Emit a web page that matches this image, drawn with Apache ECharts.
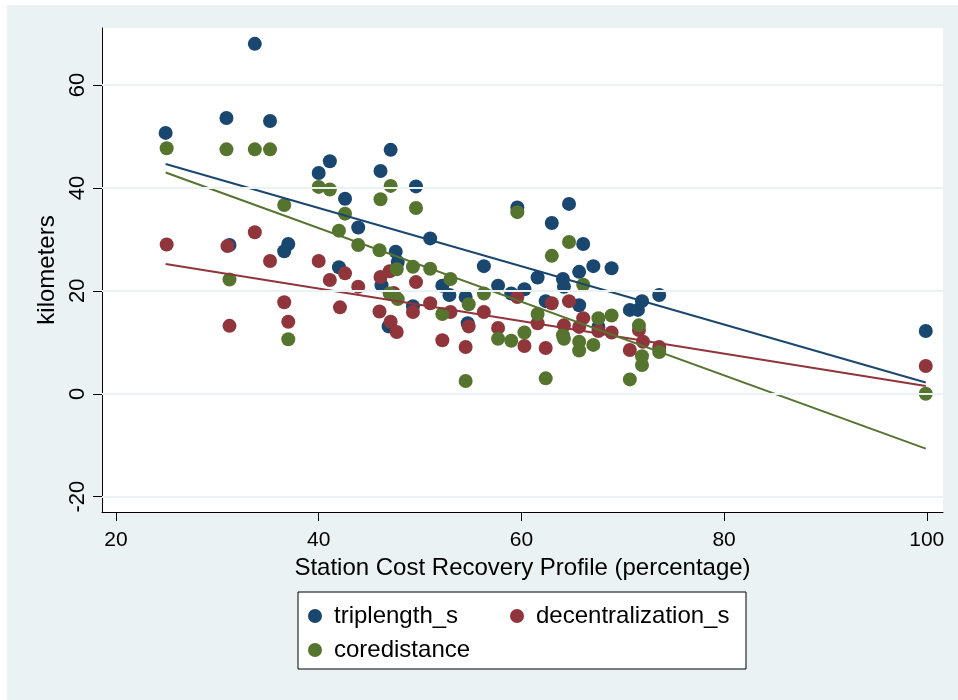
<!DOCTYPE html>
<html><head><meta charset="utf-8">
<script src="https://cdn.jsdelivr.net/npm/echarts@6/dist/echarts.min.js"></script>
<style>html,body{margin:0;padding:0;background:#fff}#c{width:958px;height:700px}</style>
</head><body><div id="c"></div>
<script>
// ---- data ----
const xTicks = [20, 40, 60, 80, 100];
const yTicks = [-20, 0, 20, 40, 60];
const seriesNames = ['triplength_s', 'decentralization_s', 'coredistance'];

const tripX = [24.9,30.9,33.7,35.2,31.2,37.0,36.6,40.0,41.1,42.6,43.9,42.0,46.1,47.1,46.2,47.6,47.8,46.9,49.6,51.0,49.3,52.2,52.9,54.5,54.7,56.3,57.7,59.0,59.6,60.3,61.6,62.4,63.0,64.1,64.2,64.7,65.7,65.7,66.1,67.1,67.6,68.9,70.7,71.5,71.9,73.6,99.9];
const tripY = [50.7,53.6,68.0,53.0,28.9,29.1,27.7,42.9,45.2,37.9,32.3,24.6,43.3,47.4,21.1,27.6,25.6,13.1,40.3,30.2,17.0,21.0,19.2,18.8,13.7,24.8,21.0,19.5,36.2,20.3,22.6,18.0,33.2,22.3,20.8,36.9,23.7,17.2,29.1,24.8,13.0,24.4,16.3,16.3,18.0,19.2,12.2];

const decX = [25.0,31.0,31.2,33.7,35.2,36.6,37.0,40.0,41.1,42.1,42.6,43.9,46.0,46.1,47.0,47.1,47.7,47.4,49.3,49.6,51.0,52.2,53.0,54.5,54.8,56.3,57.7,59.6,60.3,61.6,62.4,63.0,64.2,64.7,65.7,66.1,67.6,68.9,70.7,71.6,72.0,73.6,99.9];
const decY = [29.0,28.7,13.2,31.4,25.8,17.8,14.0,25.8,22.1,16.8,23.4,20.8,16.0,22.7,23.8,14.0,12.0,19.6,15.9,21.7,17.6,10.4,15.9,9.1,13.1,15.9,12.8,18.8,9.3,13.7,8.9,17.6,13.3,18.0,13.0,14.7,12.2,11.9,8.5,12.4,10.1,9.1,5.4];

const coreX = [25.0,30.9,31.2,33.7,35.2,36.6,37.0,40.0,41.1,42.0,42.6,43.9,46.0,46.1,47.1,47.7,47.0,47.8,49.3,49.6,51.0,52.2,53.0,54.5,54.8,56.3,57.7,59.0,59.6,60.3,61.6,62.4,63.0,64.1,64.2,64.7,65.7,65.7,66.1,67.1,67.6,68.9,70.7,71.6,71.9,71.9,73.6,99.9];
const coreY = [47.7,47.5,22.2,47.5,47.5,36.7,10.6,40.2,39.7,31.7,35.0,28.9,27.9,37.8,40.4,24.2,19.5,18.4,24.7,36.1,24.3,15.5,22.3,2.5,17.4,19.5,10.7,10.3,35.3,11.9,15.5,3.0,26.8,11.4,10.7,29.5,10.1,8.4,21.2,9.5,14.7,15.2,2.8,13.3,7.3,5.6,8.1,0.0];

// fitted-line endpoints
const fitX = [24.9, 99.9];
const fitTrip = [44.65, 2.2];
const fitDec = [25.2, 1.5];
const fitCore = [43.0, -10.65];

// ---- styling ----
const colors = ['#1a476f', '#90353b', '#55752f'];
const FONT = "'Liberation Sans', Arial, sans-serif";
const zip = (xs, ys) => xs.map((x, i) => [x, ys[i]]);

const chart = echarts.init(document.getElementById('c'), null, {renderer: 'canvas'});

function scatter(name, xs, ys, color) {
  return {name, type: 'scatter', data: zip(xs, ys), symbol: 'circle', symbolSize: 14,
    itemStyle: {color, opacity: 1}, z: 3, silent: true};
}
function fit(name, ys, color) {
  return {name, type: 'line', data: zip(fitX, ys), showSymbol: false, symbol: 'none',
    lineStyle: {color, width: 2}, z: 4, silent: true};
}

const legendBase = {
  icon: 'circle', itemWidth: 14, itemHeight: 14, itemGap: 0, padding: 0,
  selectedMode: false,
  textStyle: {fontSize: 24, color: '#000', fontFamily: FONT, padding: [0, 0, 0, 7]}
};

chart.setOption({
  animation: false,
  backgroundColor: '#ffffff',
  graphic: [
    {type: 'rect', shape: {x: 7, y: 5, width: 951, height: 695}, style: {fill: '#eaf2f3'}, z: -10, silent: true},
    {type: 'rect', shape: {x: 298, y: 592, width: 448, height: 77}, style: {fill: '#ffffff', stroke: '#000', lineWidth: 1}, z: 1, silent: true}
  ],
  grid: {left: 102, top: 28, right: 15, bottom: 188, show: true, backgroundColor: '#ffffff', borderWidth: 0},
  xAxis: {
    type: 'value', min: 18.62, max: 101.6,
    axisLine: {show: true, onZero: false, lineStyle: {color: '#000', width: 1}},
    axisTick: {show: true, length: 9, customValues: xTicks, lineStyle: {color: '#000'}},
    axisLabel: {customValues: xTicks, fontSize: 21, color: '#000', fontFamily: FONT, margin: 18},
    splitLine: {show: false},
    name: 'Station Cost Recovery Profile (percentage)', nameLocation: 'middle', nameGap: 44,
    nameTextStyle: {fontSize: 24, color: '#000', fontFamily: FONT}
  },
  yAxis: {
    type: 'value', min: -22.97, max: 71.08,
    axisLine: {show: true, onZero: false, lineStyle: {color: '#000', width: 1}},
    axisTick: {show: true, length: 9, customValues: yTicks, lineStyle: {color: '#000'}},
    axisLabel: {customValues: yTicks, rotate: 90, fontSize: 22, color: '#000', fontFamily: FONT, margin: 13},
    splitLine: {show: false},
    name: 'kilometers', nameLocation: 'middle', nameGap: 40, nameRotate: 90,
    nameTextStyle: {fontSize: 24, color: '#000', fontFamily: FONT}
  },
  legend: [
    Object.assign({}, legendBase, {data: [seriesNames[0]], left: 308, top: 604}),
    Object.assign({}, legendBase, {data: [seriesNames[1]], left: 510, top: 604}),
    Object.assign({}, legendBase, {data: [seriesNames[2]], left: 308, top: 638})
  ],
  series: [
    {name: 'grid', type: 'line', data: [], z: 1, silent: true,
      markLine: {silent: true, symbol: 'none', label: {show: false}, animation: false,
        lineStyle: {color: '#eaf2f3', width: 2, type: 'solid'},
        data: yTicks.map(v => ({yAxis: v}))}},
    scatter(seriesNames[0], tripX, tripY, colors[0]),
    scatter(seriesNames[1], decX, decY, colors[1]),
    scatter(seriesNames[2], coreX, coreY, colors[2]),
    fit('fit_trip', fitTrip, colors[0]),
    fit('fit_dec', fitDec, colors[1]),
    fit('fit_core', fitCore, colors[2])
  ]
});
</script></body></html>
